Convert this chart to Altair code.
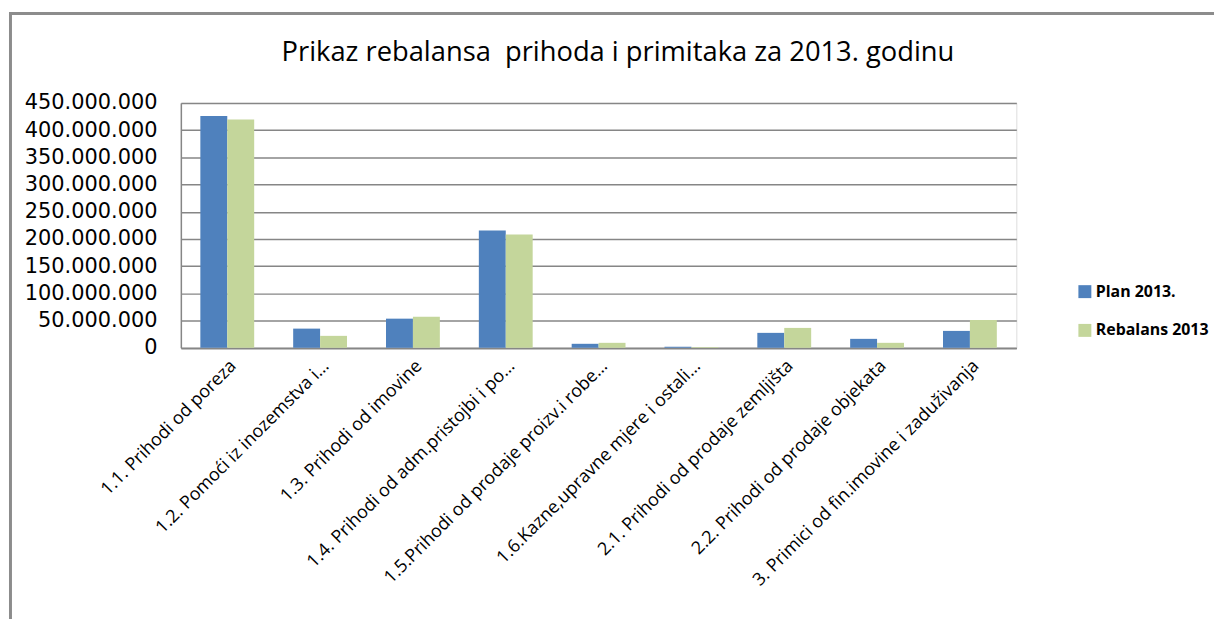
import altair as alt
import pandas as pd

title_text = "Prikaz rebalansa \u00a0prihoda i primitaka za 2013. godinu"
categories = [
    "1.1. Prihodi od poreza",
    "1.2. Pomoći iz inozemstva i…",
    "1.3. Prihodi od imovine",
    "1.4. Prihodi od adm.pristojbi i po…",
    "1.5.Prihodi od prodaje proizv.i robe…",
    "1.6.Kazne,upravne mjere i ostali…",
    "2.1. Prihodi od prodaje zemljišta",
    "2.2. Prihodi od prodaje objekata",
    "3. Primici od fin.imovine i zaduživanja",
]
plan_2013 = [425700000, 35200000, 53500000, 215300000, 7300000, 1800000, 27400000, 16400000, 31000000]
rebalans_2013 = [419700000, 21900000, 57200000, 208000000, 9100000, 1200000, 36500000, 9100000, 51000000]
series = ["Plan 2013.", "Rebalans 2013"]
colors = ["#4F81BD", "#C4D69B"]
y_ticks = list(range(0, 450000001, 50000000))

rows = []
for c, p, r in zip(categories, plan_2013, rebalans_2013):
    rows.append({"kategorija": c, "serija": series[0], "iznos": p})
    rows.append({"kategorija": c, "serija": series[1], "iznos": r})
df = pd.DataFrame(rows)

W, H = 841, 246.5
PAD_L, PAD_T = 174, 93.5

bars = alt.Chart(df).mark_bar().encode(
    x=alt.X("kategorija:N", sort=categories,
            scale=alt.Scale(paddingInner=0.42, paddingOuter=0.21),
            axis=alt.Axis(title=None, labelAngle=-45, labelFont="Open Sans", labelFontSize=18,
                          labelColor="#000000", ticks=False, labelPadding=9,
                          domainColor="#868686", domainWidth=1.5, labelLimit=500)),
    xOffset=alt.XOffset("serija:N", sort=series),
    y=alt.Y("iznos:Q", scale=alt.Scale(domain=[0, 450000000], nice=False),
            axis=alt.Axis(title=None, values=y_ticks, format=",d", labelFont="DejaVu Sans",
                          labelFontSize=21, labelColor="#000000", ticks=False, labelPadding=24,
                          domain=True, domainColor="#868686", domainWidth=1.5,
                          gridColor="#868686", gridWidth=1.5)),
    color=alt.Color("serija:N", sort=series, scale=alt.Scale(domain=series, range=colors),
                    legend=alt.Legend(title=None, orient="none", legendX=902, legendY=182,
                                      symbolType="square", symbolSize=170, symbolStrokeWidth=0,
                                      labelFont="Open Sans", labelFontSize=16, labelFontWeight="bold",
                                      labelColor="#000000", rowPadding=23, labelOffset=3)),
)

frame_df = pd.DataFrame({"k": [0]})
frame_left = alt.Chart(frame_df).mark_rule(color="#8C8C8C", strokeWidth=3).encode(
    x=alt.value(-171.5), y=alt.value(-90), y2=alt.value(530))
frame_top = alt.Chart(frame_df).mark_rule(color="#8C8C8C", strokeWidth=3).encode(
    x=alt.value(-173), x2=alt.value(1040), y=alt.value(-90))
title_df = pd.DataFrame({"t": [title_text]})
title = alt.Chart(title_df).mark_text(font="Open Sans", fontSize=27.5, color="#000000",
                                      align="center", baseline="alphabetic").encode(
    text="t:N", x=alt.value(440), y=alt.value(-42))

chart = alt.layer(bars, frame_left, frame_top, title).properties(
    width=W, height=H,
    autosize=alt.AutoSizeParams(type="none"),
    padding={"left": PAD_L, "top": PAD_T, "right": 1216 - PAD_L - W, "bottom": 611 - PAD_T - H},
).configure_view(stroke=None).configure(
    locale={"number": {"decimal": ",", "thousands": ".", "grouping": [3], "currency": ["", " kn"]}}
)

chart.save("out.html", embed_options={"renderer": "svg", "actions": False})
